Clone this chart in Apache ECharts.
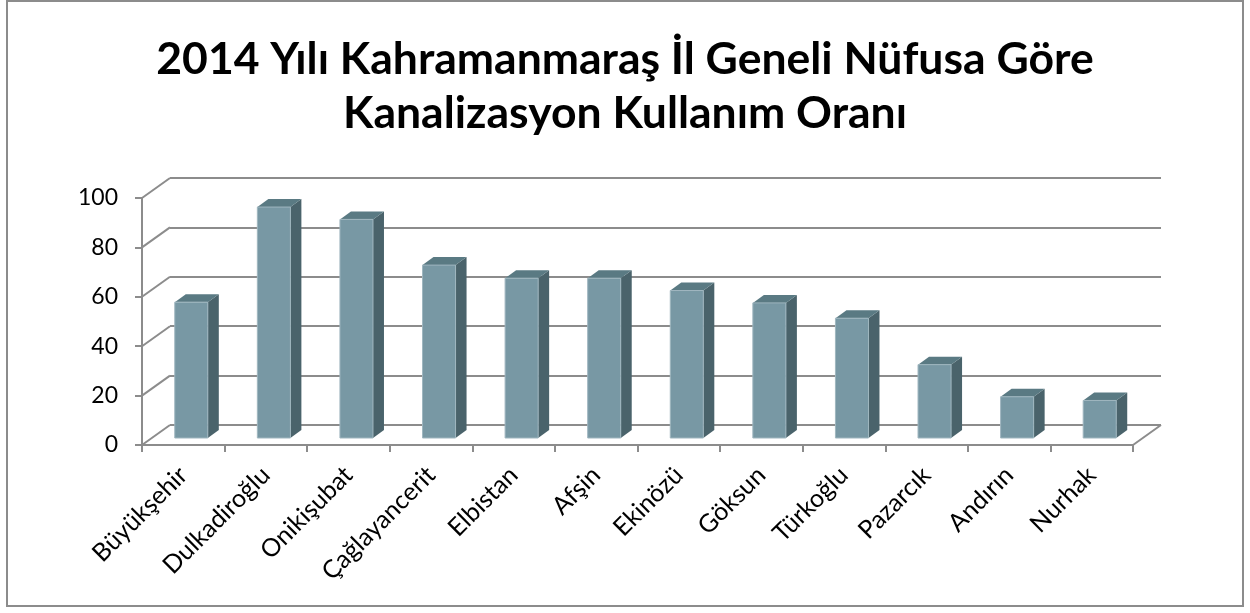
<!DOCTYPE html>
<html>
<head>
<meta charset="utf-8">
<script src="https://cdn.jsdelivr.net/npm/echarts@6/dist/echarts.min.js"></script>
<style>
  html, body { margin: 0; padding: 0; background: #fff; }
  #chart { width: 1250px; height: 613px; }
</style>
</head>
<body>
<div id="chart"></div>
<script>
  const titleLines = ['2014 Yılı Kahramanmaraş İl Geneli Nüfusa Göre', 'Kanalizasyon Kullanım Oranı'];
  const districts = ['Büyükşehir', 'Dulkadiroğlu', 'Onikişubat', 'Çağlayancerit', 'Elbistan', 'Afşin',
    'Ekinözü', 'Göksun', 'Türkoğlu', 'Pazarcık', 'Andırın', 'Nurhak'];
  const rates = [55, 93.5, 88.5, 70, 64.7, 64.7, 59.7, 54.7, 48.5, 29.7, 16.7, 15.2];
  const yTicks = [0, 20, 40, 60, 80, 100];

  // 3D look: offset of the back wall and of the bars inside the depth
  const WALL_DX = 28, WALL_DY = -20;
  const BAR_DX = 8, BAR_DY = -7, SIDE_DX = 11, SIDE_DY = -8;
  const gray = '#8c8c8c';
  const font = 'Lato, "Open Sans", sans-serif';

  const chart = echarts.init(document.getElementById('chart'));

  const option = {
    backgroundColor: '#fff',
    animation: false,
    title: {
      text: titleLines.join('\n'),
      left: 'center',
      top: 28,
      textStyle: { fontFamily: font, fontSize: 44.5, fontWeight: 'bold', color: '#000', lineHeight: 54 }
    },
    graphic: [{
      type: 'rect',
      shape: { x: 7, y: 1, width: 1236, height: 605 },
      style: { fill: 'none', stroke: gray, lineWidth: 2 },
      silent: true
    }],
    grid: [
      { left: 142, right: 117, top: 198, bottom: 168 },
      { left: 142 + WALL_DX, right: 117 - WALL_DX, top: 198 + WALL_DY, bottom: 168 - WALL_DY }
    ],
    xAxis: [
      {
        type: 'category', gridIndex: 0, data: districts,
        axisLine: { lineStyle: { color: gray, width: 2 } },
        axisTick: { show: true, length: 7, lineStyle: { color: gray, width: 2 } },
        axisLabel: { rotate: 45, margin: 26, fontFamily: font, fontSize: 25, color: '#000', interval: 0 }
      },
      { type: 'category', gridIndex: 1, data: districts, show: false }
    ],
    yAxis: [
      {
        type: 'value', gridIndex: 0, min: 0, max: 100, interval: 20,
        axisLine: { show: true, lineStyle: { color: gray, width: 2 } },
        axisTick: { show: true, length: 7, lineStyle: { color: gray, width: 2 } },
        splitLine: { show: false },
        axisLabel: { margin: 24, fontFamily: font, fontSize: 23, color: '#000' }
      },
      {
        type: 'value', gridIndex: 1, min: 0, max: 100, interval: 20,
        axisLine: { show: false }, axisTick: { show: false }, axisLabel: { show: false },
        splitLine: { show: true, lineStyle: { color: gray, width: 2 } }
      }
    ],
    series: [
      {
        // side wall lines and floor corner
        type: 'custom', xAxisIndex: 0, yAxisIndex: 0, silent: true, clip: false,
        data: yTicks.map((t) => [0, t]),
        renderItem: (params, api) => {
          const v = api.value(1);
          const p = api.coord([0, v]);
          const half = api.size([1, 0])[0] / 2;
          const x0 = p[0] - half;
          const children = [{
            type: 'line',
            shape: { x1: x0, y1: p[1], x2: x0 + WALL_DX, y2: p[1] + WALL_DY },
            style: { stroke: gray, lineWidth: 2 }
          }];
          if (v === 0) {
            const q = api.coord([districts.length - 1, 0]);
            const x1 = q[0] + half;
            children.push({
              type: 'line',
              shape: { x1: x1, y1: q[1], x2: x1 + WALL_DX, y2: q[1] + WALL_DY },
              style: { stroke: gray, lineWidth: 2 }
            });
          }
          return { type: 'group', children: children };
        }
      },
      {
        type: 'custom', xAxisIndex: 0, yAxisIndex: 0, clip: false,
        data: rates.map((r, i) => [i, r]),
        renderItem: (params, api) => {
          const base = api.coord([api.value(0), 0]);
          const top = api.coord([api.value(0), api.value(1)]);
          const w = api.size([1, 0])[0] * 0.4;
          const xl = base[0] - w / 2 + BAR_DX;
          const xr = xl + w;
          const yb = base[1] + BAR_DY;
          const yt = top[1] + BAR_DY;
          return {
            type: 'group',
            children: [
              {
                type: 'polygon',
                shape: { points: [[xr, yb], [xr + SIDE_DX, yb + SIDE_DY], [xr + SIDE_DX, yt + SIDE_DY], [xr, yt]] },
                style: { fill: '#4a636b' }
              },
              {
                type: 'polygon',
                shape: { points: [[xl, yt], [xr, yt], [xr + SIDE_DX, yt + SIDE_DY], [xl + SIDE_DX, yt + SIDE_DY]] },
                style: { fill: '#5a7a83' }
              },
              {
                type: 'rect',
                shape: { x: xl, y: yt, width: w, height: yb - yt },
                style: { fill: '#7898a4', stroke: '#9fb6bf', lineWidth: 1 }
              }
            ]
          };
        }
      }
    ]
  };

  chart.setOption(option);
</script>
</body>
</html>
